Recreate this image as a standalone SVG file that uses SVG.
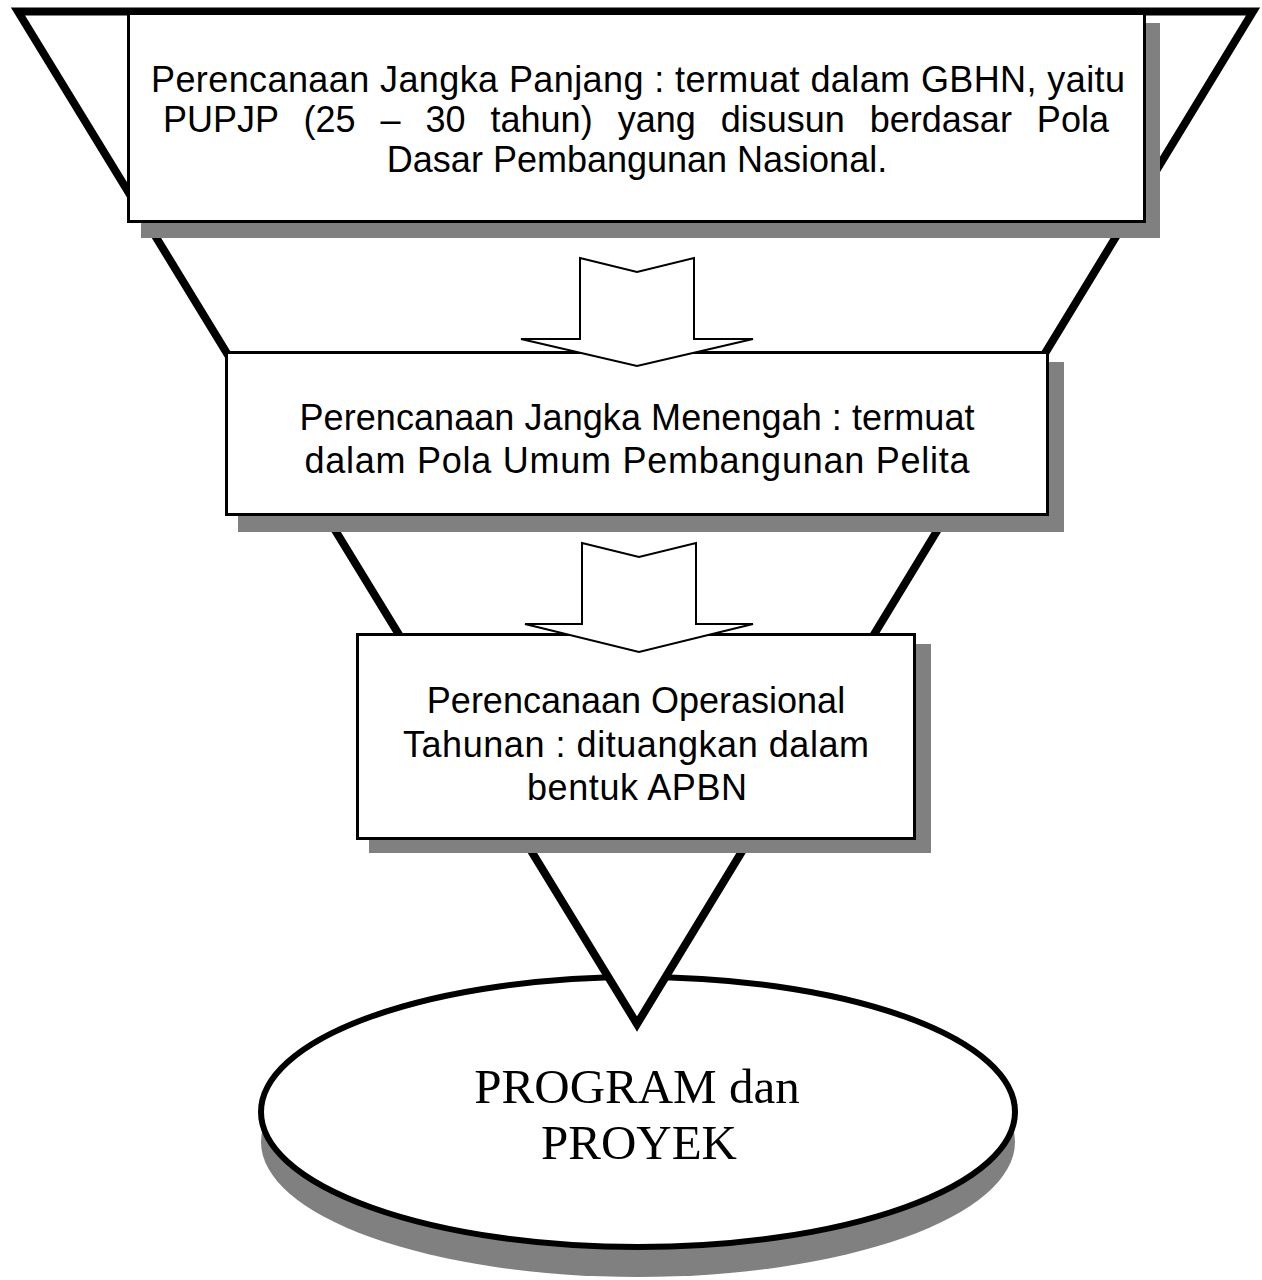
<svg xmlns="http://www.w3.org/2000/svg" width="1262" height="1280" viewBox="0 0 1262 1280">
<style>
.shadow{fill:#808080;stroke:none}
.box{fill:#fff;stroke:#000;stroke-width:3}
.txt{font-family:"Liberation Sans",Arial,sans-serif;font-size:36px;fill:#000;text-anchor:middle}
.serif{font-family:"Liberation Serif","Times New Roman",serif;font-size:49px;fill:#000;text-anchor:middle}
.arrow{fill:#fff;stroke:#000;stroke-width:2;stroke-linejoin:miter}
</style>
<rect width="1262" height="1280" fill="#fff"/>
<g id="ellipse-node">
<ellipse class="shadow" cx="638" cy="1142" rx="377" ry="135"/>
<ellipse cx="638" cy="1112" rx="377" ry="135" fill="#fff" stroke="#000" stroke-width="6"/>
<text class="serif" x="637" y="1103">PROGRAM dan</text>
<text class="serif" x="639" y="1159">PROYEK</text>
</g>
<g id="funnel">
<polygon points="18,11.5 1253,11.5 637,1024" fill="#fff" stroke="#000" stroke-width="8" stroke-linejoin="miter" stroke-miterlimit="10"/>
</g>
<g id="box1">
<rect class="shadow" x="141" y="23" width="1019" height="215"/>
<rect class="box" x="128.5" y="13.5" width="1016" height="208"/>
<text class="txt" x="638" y="92" textLength="974" lengthAdjust="spacing">Perencanaan Jangka Panjang : termuat dalam GBHN, yaitu</text>
<text class="txt" x="636" y="132" word-spacing="15">PUPJP (25 – 30 tahun) yang disusun berdasar Pola</text>
<text class="txt" x="637" y="172">Dasar Pembangunan Nasional.</text>
</g>
<g id="box2">
<rect class="shadow" x="238" y="362" width="826" height="170"/>
<rect class="box" x="226.5" y="352.5" width="821" height="162"/>
<text class="txt" x="637" y="430" textLength="675" lengthAdjust="spacing">Perencanaan Jangka Menengah : termuat</text>
<text class="txt" x="637" y="473" textLength="665" lengthAdjust="spacing">dalam Pola Umum Pembangunan Pelita</text>
</g>
<g id="box3">
<rect class="shadow" x="369" y="644" width="562" height="209"/>
<rect class="box" x="357.5" y="634.5" width="557" height="204"/>
<text class="txt" x="636" y="713">Perencanaan Operasional</text>
<text class="txt" x="636" y="757" textLength="466" lengthAdjust="spacing">Tahunan : dituangkan dalam</text>
<text class="txt" x="637" y="800" textLength="220" lengthAdjust="spacing">bentuk APBN</text>
</g>
<g id="connectors">
<polygon class="arrow" points="580,258 637,272 694,258 694,339 753,339 637,366 521,339 580,339"/>
<polygon class="arrow" points="582,543 639,557 696,543 696,624 753,624 639,652 525,624 582,624"/>
</g>
</svg>
